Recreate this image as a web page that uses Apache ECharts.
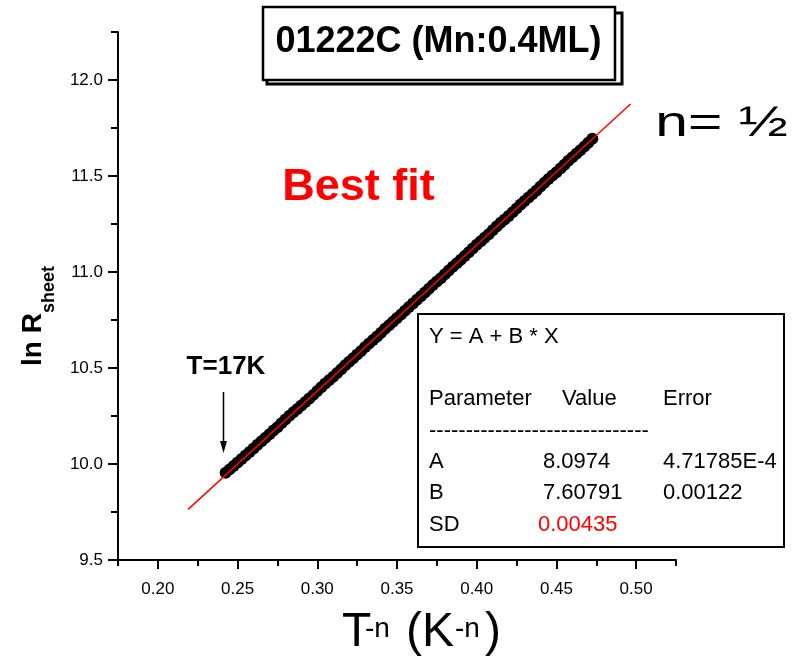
<!DOCTYPE html>
<html>
<head>
<meta charset="utf-8">
<title>01222C (Mn:0.4ML)</title>
<script src="https://cdn.jsdelivr.net/npm/echarts@6/dist/echarts.min.js"></script>
<style>
  html, body { margin: 0; padding: 0; background: #fff; }
  #chart { width: 801px; height: 657px; }
</style>
</head>
<body>
<div id="chart"></div>
<script>
// Measured ln(R_sheet) against T^(-1/2), from 17 K downwards
const xValues = [
  0.2425, 0.2450, 0.2475, 0.2500, 0.2525, 0.2550, 0.2575, 0.2600, 0.2625, 0.2650,
  0.2675, 0.2700, 0.2725, 0.2750, 0.2775, 0.2800, 0.2825, 0.2850, 0.2875, 0.2900,
  0.2925, 0.2950, 0.2975, 0.3000, 0.3025, 0.3050, 0.3075, 0.3100, 0.3125, 0.3150,
  0.3175, 0.3200, 0.3225, 0.3250, 0.3275, 0.3300, 0.3325, 0.3350, 0.3375, 0.3400,
  0.3425, 0.3450, 0.3475, 0.3500, 0.3525, 0.3550, 0.3575, 0.3600, 0.3625, 0.3650,
  0.3675, 0.3700, 0.3725, 0.3750, 0.3775, 0.3800, 0.3825, 0.3850, 0.3875, 0.3900,
  0.3925, 0.3950, 0.3975, 0.4000, 0.4025, 0.4050, 0.4075, 0.4100, 0.4125, 0.4150,
  0.4175, 0.4200, 0.4225, 0.4250, 0.4275, 0.4300, 0.4325, 0.4350, 0.4375, 0.4400,
  0.4425, 0.4450, 0.4475, 0.4500, 0.4525, 0.4550, 0.4575, 0.4600, 0.4625, 0.4650,
  0.4675, 0.4700, 0.4725
];
const lnR = [
  9.954, 9.972, 9.990, 10.008, 10.026, 10.044, 10.062, 10.081, 10.100, 10.118,
  10.137, 10.155, 10.174, 10.192, 10.212, 10.232, 10.251, 10.269, 10.287, 10.305,
  10.323, 10.341, 10.360, 10.380, 10.400, 10.419, 10.437, 10.455, 10.474, 10.494,
  10.514, 10.533, 10.551, 10.570, 10.589, 10.609, 10.628, 10.646, 10.664, 10.684,
  10.704, 10.723, 10.741, 10.760, 10.778, 10.798, 10.818, 10.836, 10.855, 10.874,
  10.893, 10.913, 10.932, 10.950, 10.968, 10.988, 11.008, 11.027, 11.046, 11.064,
  11.083, 11.103, 11.123, 11.142, 11.160, 11.178, 11.197, 11.217, 11.237, 11.256,
  11.274, 11.292, 11.311, 11.331, 11.351, 11.370, 11.388, 11.406, 11.425, 11.445,
  11.465, 11.484, 11.502, 11.520, 11.539, 11.559, 11.579, 11.598, 11.616, 11.634,
  11.653, 11.673, 11.694
];

// Linear fit Y = A + B * X and its drawn range
const fitA = 8.0974;
const fitB = 7.60791;
const fitXRange = [0.219, 0.4965];

// Fit report table
const fitHeader = ['Parameter', 'Value', 'Error'];
const fitParams = ['A', 'B'];
const fitParamValues = ['8.0974', '7.60791'];
const fitParamErrors = ['4.71785E-4', '0.00122'];
const fitSD = '0.00435';

// Axis ranges
const xRange = [0.175, 0.525];
const xMajor = [0.20, 0.50];
const yRange = [9.5, 12.25];
const yMajor = [9.5, 12.0];

const FONT = '"Liberation Sans", Arial, Helvetica, sans-serif';

const chart = echarts.init(document.getElementById('chart'), null, { renderer: 'canvas' });

const PLOT = { left: 118, top: 32, width: 558, height: 528 };
const xPx = v => PLOT.left + (v - xRange[0]) / (xRange[1] - xRange[0]) * PLOT.width;
const yPx = v => PLOT.top + PLOT.height - (v - yRange[0]) / (yRange[1] - yRange[0]) * PLOT.height;

// Second grid carries the labelled (longer) major ticks
const MAJOR = {
  left: xPx(xMajor[0]),
  width: xPx(xMajor[1]) - xPx(xMajor[0]),
  top: yPx(yMajor[1]),
  height: yPx(yMajor[0]) - yPx(yMajor[1])
};

const fitData = fitXRange.map(x => [x, fitA + fitB * x]);
const points = xValues.map((x, i) => [x, lnR[i]]);

function txt(x, y, text, size, opts) {
  opts = opts || {};
  return {
    type: 'text', x: x, y: y,
    rotation: opts.rotation || 0,
    scaleX: opts.scaleX || 1,
    z: 100,
    style: {
      text: text,
      fill: opts.color || '#000',
      font: (opts.bold ? 'bold ' : '') + size + 'px ' + FONT,
      align: opts.align || 'left',
      verticalAlign: 'middle'
    }
  };
}

const graphics = [
  // title box with offset shadow frame
  { type: 'rect', z: 90, shape: { x: 267, y: 13, width: 355, height: 71 },
    style: { fill: '#fff', stroke: '#000', lineWidth: 3 } },
  { type: 'rect', z: 91, shape: { x: 263, y: 7, width: 352, height: 73 },
    style: { fill: '#fff', stroke: '#000', lineWidth: 2.5 } },
  txt(438.5, 42.5, '01222C (Mn:0.4ML)', 36, { bold: true, align: 'center' }),

  txt(358.5, 188, 'Best fit', 45, { bold: true, align: 'center', color: '#ff0000' }),
  txt(721.5, 124, 'n= \u00BD', 42, { align: 'center', scaleX: 1.4 }),

  // low-temperature end marker
  txt(226, 367, 'T=17K', 26, { bold: true, align: 'center' }),
  { type: 'line', z: 100, shape: { x1: 223.5, y1: 392, x2: 223.5, y2: 444 },
    style: { stroke: '#000', lineWidth: 1.5 } },
  { type: 'polygon', z: 100, shape: { points: [[220, 441], [227, 441], [223.5, 453]] },
    style: { fill: '#000' } },

  // y-axis title ln R_sheet
  txt(33, 366, 'ln R', 28, { bold: true, rotation: Math.PI / 2 }),
  txt(49, 313, 'sheet', 18, { bold: true, rotation: Math.PI / 2 }),

  // x-axis title T^-n (K^-n)
  txt(342, 633, 'T', 48),
  txt(365, 629, '-n', 28),
  txt(406, 633, '(K', 48),
  txt(455, 629, '-n', 28),
  txt(485, 633, ')', 48),

  // fit report box
  { type: 'rect', z: 95, shape: { x: 418, y: 314, width: 366, height: 233 },
    style: { fill: '#fff', stroke: '#000', lineWidth: 2 } },
  txt(429, 337, 'Y = A + B * X', 22),
  txt(429, 399, fitHeader[0], 22),
  txt(562, 399, fitHeader[1], 22),
  txt(663, 399, fitHeader[2], 22),
  txt(429, 431, '------------------------------', 22),
  txt(429, 462, fitParams[0], 22),
  txt(543, 462, fitParamValues[0], 22),
  txt(663, 462, fitParamErrors[0], 22),
  txt(429, 493, fitParams[1], 22),
  txt(543, 493, fitParamValues[1], 22),
  txt(663, 493, fitParamErrors[1], 22),
  txt(429, 525, 'SD', 22),
  txt(538, 525, fitSD, 22, { color: '#ff0000' })
];

const option = {
  animation: false,
  backgroundColor: '#fff',
  grid: [
    { left: PLOT.left, top: PLOT.top, width: PLOT.width, height: PLOT.height, containLabel: false },
    { left: MAJOR.left, top: MAJOR.top, width: MAJOR.width, height: MAJOR.height, containLabel: false }
  ],
  xAxis: [
    {
      type: 'value', gridIndex: 0, min: xRange[0], max: xRange[1], interval: 0.025,
      axisLine: { show: true, onZero: false, lineStyle: { color: '#000', width: 2 } },
      axisTick: { show: true, inside: false, length: 6, lineStyle: { color: '#000', width: 2 } },
      axisLabel: { show: false },
      splitLine: { show: false }
    },
    {
      type: 'value', gridIndex: 1, min: xMajor[0], max: xMajor[1], interval: 0.05,
      axisLine: { show: false, onZero: false },
      axisTick: { show: true, inside: false, length: 9, lineStyle: { color: '#000', width: 2 } },
      axisLabel: { show: true, margin: 21, color: '#000', fontSize: 17, fontFamily: FONT,
                   formatter: v => v.toFixed(2) },
      splitLine: { show: false }
    }
  ],
  yAxis: [
    {
      type: 'value', gridIndex: 0, min: yRange[0], max: yRange[1], interval: 0.25,
      axisLine: { show: true, onZero: false, lineStyle: { color: '#000', width: 2 } },
      axisTick: { show: true, inside: false, length: 7, lineStyle: { color: '#000', width: 2 } },
      axisLabel: { show: false },
      splitLine: { show: false }
    },
    {
      type: 'value', gridIndex: 1, min: yMajor[0], max: yMajor[1], interval: 0.5,
      position: 'left', offset: MAJOR.left - PLOT.left,
      axisLine: { show: false, onZero: false },
      axisTick: { show: true, inside: false, length: 10, lineStyle: { color: '#000', width: 2 } },
      axisLabel: { show: true, margin: 15, color: '#000', fontSize: 17, fontFamily: FONT,
                   formatter: v => v.toFixed(1) },
      splitLine: { show: false }
    }
  ],
  series: [
    {
      name: 'ln R_sheet', type: 'scatter', xAxisIndex: 0, yAxisIndex: 0,
      data: points, symbol: 'circle', symbolSize: 12,
      itemStyle: { color: '#000', opacity: 1 },
      z: 2
    },
    {
      name: 'fit', type: 'line', xAxisIndex: 0, yAxisIndex: 0,
      data: fitData, showSymbol: false, symbol: 'none',
      lineStyle: { color: '#ff0000', width: 1.5 },
      z: 3
    }
  ],
  graphic: graphics
};

chart.setOption(option);
</script>
</body>
</html>
